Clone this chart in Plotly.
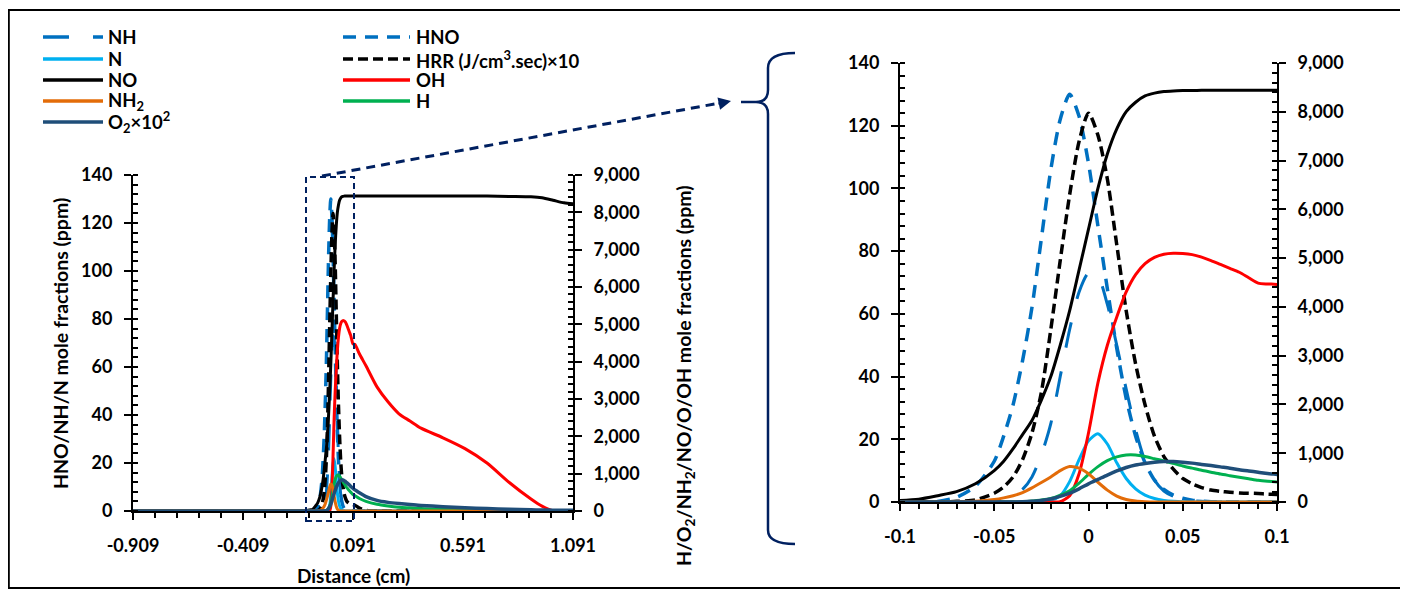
import plotly.graph_objects as go

W, H = 1408, 597
OFF = 8  # the page body adds an 8px margin around the figure

# ---------------- data ----------------
DISTANCE = [-0.909, -0.5, -0.2, -0.15, -0.12, -0.1, -0.09, -0.08, -0.07, -0.06,
            -0.05, -0.045, -0.04, -0.035, -0.03, -0.025, -0.02, -0.015, -0.01, -0.005,
            0.0, 0.005, 0.01, 0.015, 0.02, 0.025, 0.03, 0.035, 0.04, 0.045,
            0.05, 0.055, 0.06, 0.065, 0.07, 0.075, 0.08, 0.085, 0.09, 0.095,
            0.1, 0.12, 0.15, 0.2, 0.25, 0.3, 0.35, 0.4, 0.5, 0.6,
            0.7, 0.8, 0.9, 0.95, 1.0, 1.05, 1.091]

# left axis (ppm)
HNO = [0, 0, 0, 0, 0, 0, 0, 0.2, 1.5, 5,
       13, 21, 31, 45, 62, 84, 106, 122, 130, 123,
       108, 88, 68, 49, 33, 21, 12.5, 7, 4, 2.2,
       1.2, 0.6, 0.3, 0.1, 0, 0, 0, 0, 0, 0,
       0, 0, 0, 0, 0, 0, 0, 0, 0, 0,
       0, 0, 0, 0, 0, 0, 0]
NH = [0, 0, 0, 0, 0, 0, 0, 0, 0, 0,
      0.3, 0.8, 2, 4, 8, 15, 25, 40, 55, 67,
      73, 72, 63, 50, 36, 23, 13, 7, 3.5, 1.8,
      0.9, 0.4, 0.2, 0, 0, 0, 0, 0, 0, 0,
      0, 0, 0, 0, 0, 0, 0, 0, 0, 0,
      0, 0, 0, 0, 0, 0, 0]
N = [0, 0, 0, 0, 0, 0, 0, 0, 0, 0,
     0, 0, 0, 0, 0, 0.1, 0.5, 2, 6.5, 13.5,
     19.5, 21.8, 18.5, 12.5, 7.5, 4.2, 2.2, 1.1, 0.5, 0.2,
     0.1, 0, 0, 0, 0, 0, 0, 0, 0, 0,
     0, 0, 0, 0, 0, 0, 0, 0, 0, 0,
     0, 0, 0, 0, 0, 0, 0]
HRR = [0, 0, 0, 0, 0, 0, 0, 0, 0.2, 0.7,
       2.8, 4.8, 8, 13.5, 22, 35, 55, 77, 98, 115,
       124, 117, 103, 82, 61, 44, 31, 21, 14.5, 10.5,
       7.5, 5.8, 4.6, 3.8, 3.4, 3.1, 2.9, 2.8, 2.7, 2.5,
       2.4, 1.2, 0.3, 0, 0, 0, 0, 0, 0, 0,
       0, 0, 0, 0, 0, 0, 0]

# right axis (ppm)
NO = [0, 0, 0, 2, 13, 32, 58, 129, 212, 373,
      643, 836, 1093, 1382, 1671, 2089, 2571, 3214, 3921, 4757,
      5593, 6429, 7136, 7650, 8004, 8196, 8325, 8383, 8415, 8428,
      8434, 8437, 8440, 8440, 8440, 8440, 8440, 8440, 8440, 8440,
      8440, 8440, 8440, 8440, 8440, 8440, 8440, 8440, 8440, 8440,
      8435, 8425, 8415, 8390, 8325, 8255, 8230]
OH = [0, 0, 0, 0, 0, 0, 0, 0, 0, 0,
      0, 0, 0, 0, 0, 0, 0, 6, 129, 579,
      1414, 2443, 3214, 3793, 4307, 4661, 4886, 5014, 5079, 5100,
      5095, 5072, 5020, 4950, 4870, 4790, 4710, 4597, 4487, 4468,
      4461, 4211, 3889, 3324, 2925, 2604, 2411, 2218, 1961, 1671,
      1286, 771, 321, 129, 6, 0, 0]
H_ = [0, 0, 0, 0, 0, 0, 0, 0, 0, 0,
      0, 0, 0, 0, 19, 39, 71, 141, 231, 386,
      566, 726, 849, 926, 964, 964, 932, 887, 842, 791,
      739, 694, 649, 611, 572, 540, 508, 476, 444, 424,
      411, 334, 257, 180, 135, 103, 84, 64, 45, 32,
      22, 16, 10, 6, 3, 0, 0]
NH2 = [0, 0, 0, 0, 0, 0, 0, 0, 3, 13,
       51, 84, 129, 193, 289, 399, 514, 643, 726, 694,
       579, 405, 244, 122, 51, 19, 6, 0, 0, 0,
       0, 0, 0, 0, 0, 0, 0, 0, 0, 0,
       0, 0, 0, 0, 0, 0, 0, 0, 0, 0,
       0, 0, 0, 0, 0, 0, 0]
O2 = [0, 0, 0, 0, 0, 0, 0, 0, 0, 0,
      0, 0, 0, 3, 13, 32, 64, 116, 180, 270,
      373, 463, 553, 636, 707, 759, 791, 816, 829, 829,
      816, 797, 771, 746, 720, 694, 662, 636, 611, 585,
      566, 489, 386, 283, 231, 199, 174, 148, 116, 84,
      64, 45, 32, 26, 22, 19, 19]

# tick labels
MAIN_X_TICKS = [-0.909, -0.409, 0.091, 0.591, 1.091]
MAIN_X_LABELS = ["-0.909", "-0.409", "0.091", "0.591", "1.091"]
ZOOM_X_TICKS = [-0.1, -0.05, 0, 0.05, 0.1]
ZOOM_X_LABELS = ["-0.1", "-0.05", "0", "0.05", "0.1"]
LEFT_Y_TICKS = [0, 20, 40, 60, 80, 100, 120, 140]
RIGHT_Y_TICKS = [0, 1000, 2000, 3000, 4000, 5000, 6000, 7000, 8000, 9000]
RIGHT_Y_LABELS = ["0", "1,000", "2,000", "3,000", "4,000", "5,000",
                  "6,000", "7,000", "8,000", "9,000"]

# ---------------- styles ----------------
FONT = "Lato"
NAVY = "#002060"
C_NH = "#0070C0"
C_N = "#00B0F0"
C_NH2 = "#E36C09"
C_OH = "#FF0000"
C_H = "#00B050"
C_O2 = "#1F4E79"

D_NH = "26px,24px"
D_HNO = "13px,9px"
D_HRR = "10px,5px"

# name, values, side, color, dash, width
SERIES = [
    ("HNO", HNO, "L", C_NH, D_HNO, 3.5),
    ("NH", NH, "L", C_NH, D_NH, 3),
    ("HRR", HRR, "L", "black", D_HRR, 3.5),
    ("NO", NO, "R", "black", "solid", 3),
    ("N", N, "L", C_N, "solid", 3),
    ("OH", OH, "R", C_OH, "solid", 3),
    ("H", H_, "R", C_H, "solid", 3),
    ("NH2", NH2, "R", C_NH2, "solid", 3),
    ("O2", O2, "R", C_O2, "solid", 3.5),
]

fig = go.Figure()
for name, vals, side, color, dash, width in SERIES:
    for xa, ya_l, ya_r in (("x", "y", "y2"), ("x2", "y3", "y4")):
        fig.add_trace(go.Scatter(
            x=DISTANCE, y=vals, mode="lines", name=name,
            xaxis=xa, yaxis=ya_l if side == "L" else ya_r,
            line=dict(color=color, width=width, dash=dash, shape="spline", smoothing=0.7),
            showlegend=False, hoverinfo="skip"))

tickfont = dict(family=FONT, size=18, color="black", weight="bold")


def xaxis_cfg(domain, rng, tv, tt, anchor, minor_dtick, minor_tick0):
    return dict(domain=domain, range=rng, anchor=anchor, tickmode="array",
                tickvals=tv, ticktext=tt, ticks="outside", ticklen=7, tickwidth=2,
                tickcolor="black", showline=True, linewidth=2, linecolor="black",
                showgrid=False, zeroline=False, tickfont=tickfont,
                ticklabelstandoff=10, automargin=False,
                minor=dict(ticks="outside", ticklen=5, tickwidth=2, tickcolor="black",
                           dtick=minor_dtick, tick0=minor_tick0, showgrid=False))


def yaxis_cfg(domain, rng, tv, tt, anchor, minor_dtick, side="left", overlay=None):
    d = dict(range=rng, anchor=anchor, tickmode="array", side=side,
             tickvals=tv, ticktext=tt, ticks="outside", ticklen=7, tickwidth=2,
             tickcolor="black", showline=True, linewidth=2, linecolor="black",
             showgrid=False, zeroline=False, tickfont=tickfont,
             ticklabelstandoff=8, automargin=False,
             minor=dict(ticks="inside", ticklen=5, tickwidth=2, tickcolor="black",
                        dtick=minor_dtick, tick0=0, showgrid=False))
    if overlay:
        d["overlaying"] = overlay
    else:
        d["domain"] = domain
    return d


def px(x):
    return (x - OFF) / W


def py(y):
    return 1 - (y - OFF) / H


main_xd = [px(133), px(573)]
main_yd = [py(511), py(175)]
zoom_xd = [px(900), px(1277)]
zoom_yd = [py(502), py(63)]

fig.update_layout(
    width=W, height=H, autosize=False,
    margin=dict(l=0, r=0, t=0, b=0, autoexpand=False),
    paper_bgcolor="white", plot_bgcolor="white",
    font=dict(family=FONT, size=18, color="black", weight="bold"),
    showlegend=False,
    xaxis=xaxis_cfg(main_xd, [-0.909, 1.091], MAIN_X_TICKS, MAIN_X_LABELS, "y", 0.1, -0.909),
    yaxis=yaxis_cfg(main_yd, [0, 140], LEFT_Y_TICKS, [str(v) for v in LEFT_Y_TICKS], "x", 4),
    yaxis2=yaxis_cfg(None, [0, 9000], RIGHT_Y_TICKS, RIGHT_Y_LABELS, "x", 200,
                     side="right", overlay="y"),
    xaxis2=xaxis_cfg(zoom_xd, [-0.1, 0.1], ZOOM_X_TICKS, ZOOM_X_LABELS, "y3", 0.01, -0.1),
    yaxis3=yaxis_cfg(zoom_yd, [0, 140], LEFT_Y_TICKS, [str(v) for v in LEFT_Y_TICKS], "x2", 4),
    yaxis4=yaxis_cfg(None, [0, 9000], RIGHT_Y_TICKS, RIGHT_Y_LABELS, "x2", 200,
                     side="right", overlay="y3"),
)

shapes = []
annotations = []

# outer border
shapes.append(dict(type="rect", xref="paper", yref="paper",
                   x0=px(8.8), x1=px(1401), y0=py(588), y1=py(10),
                   line=dict(color="black", width=2)))

# dashed zoom box on the main chart
shapes.append(dict(type="rect", xref="paper", yref="paper",
                   x0=px(306), x1=px(354), y0=py(521), y1=py(177),
                   line=dict(color=NAVY, width=2, dash="6px,4px")))

# dashed arrow to the brace
shapes.append(dict(type="line", xref="paper", yref="paper",
                   x0=px(322), y0=py(176), x1=px(720), y1=py(103),
                   line=dict(color=NAVY, width=3, dash="9px,6px")))
annotations.append(dict(x=px(731), y=py(101), xref="paper", yref="paper",
                        ax=-14, ay=3, text="", showarrow=True, arrowhead=2,
                        arrowsize=1, arrowwidth=2.5, arrowcolor=NAVY))


# brace
def P(x, y):
    return f"{px(x):.5f},{py(y):.5f}"


brace = ("M " + P(795, 53) + " Q " + P(768, 53) + " " + P(768, 68) +
         " L " + P(768, 90) + " Q " + P(768, 102) + " " + P(756, 102) +
         " L " + P(741, 102) + " M " + P(756, 102) + " Q " + P(768, 102) + " " + P(768, 114) +
         " L " + P(768, 530) + " Q " + P(768, 544) + " " + P(795, 544))
shapes.append(dict(type="path", xref="paper", yref="paper", path=brace,
                   line=dict(color=NAVY, width=2.5)))

# legend (manual)
LEG1 = [("NH", C_NH, D_NH), ("N", C_N, "solid"), ("NO", "black", "solid"),
        ("NH<sub>2</sub>", C_NH2, "solid"), ("O<sub>2</sub>×10<sup>2</sup>", C_O2, "solid")]
LEG2 = [("HNO", C_NH, D_HNO), ("HRR (J/cm<sup>3</sup>.sec)×10", "black", D_HRR),
        ("OH", C_OH, "solid"), ("H", C_H, "solid")]
ROWS = [37, 59, 80, 101, 122]
for items, lx0, lx1, tx in ((LEG1, 43, 103, 106), (LEG2, 343, 410, 414)):
    for (label, color, dash), ry in zip(items, ROWS):
        shapes.append(dict(type="line", xref="paper", yref="paper",
                           x0=px(lx0), x1=px(lx1), y0=py(ry), y1=py(ry),
                           line=dict(color=color, width=3.5, dash=dash)))
        annotations.append(dict(x=px(tx), y=py(ry), xref="paper", yref="paper",
                                text=label, showarrow=False, xanchor="left",
                                yanchor="middle", font=dict(size=18.5)))

# axis titles
annotations.append(dict(x=px(353), y=py(575), xref="paper", yref="paper",
                        text="Distance (cm)", showarrow=False, xanchor="center",
                        yanchor="middle", font=dict(size=19)))
annotations.append(dict(x=px(60), y=py(344), xref="paper", yref="paper",
                        text="HNO/NH/N mole fractions (ppm)", textangle=-90,
                        xanchor="center", yanchor="middle",
                        showarrow=False, font=dict(size=19.5)))
annotations.append(dict(x=px(685), y=py(376), xref="paper", yref="paper",
                        text="H/O<sub>2</sub>/NH<sub>2</sub>/NO/O/OH mole fractions (ppm)",
                        textangle=-90, xanchor="center", yanchor="middle",
                        showarrow=False, font=dict(size=19.5)))

fig.update_layout(shapes=shapes, annotations=annotations)
fig.write_html("out.html")
